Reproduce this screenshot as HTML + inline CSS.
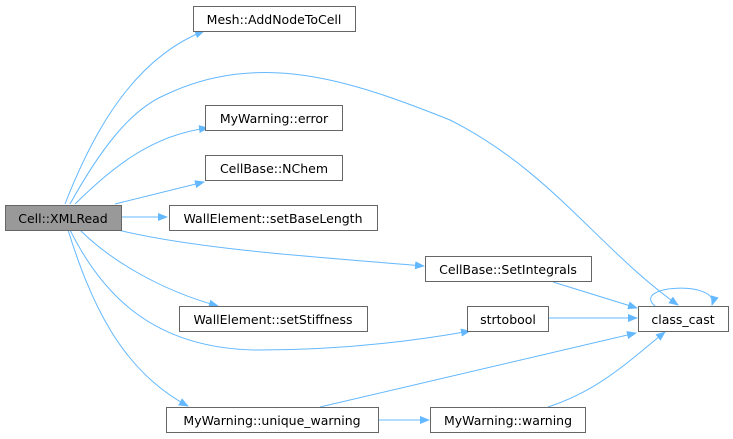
<!DOCTYPE html>
<html><head><style>
html,body{margin:0;padding:0;background:#fff;}
svg{display:block;}
text{font-family:"DejaVu Sans","Liberation Sans",sans-serif;font-size:12.5px;fill:#000;}
</style></head><body>
<svg width="733" height="439" viewBox="0 0 733 439">
<defs>
<marker id="a" markerWidth="10" markerHeight="8" refX="9" refY="4" orient="auto" markerUnits="userSpaceOnUse">
<path d="M0,0 L10,4 L0,8 z" fill="#63b8ff"/>
</marker>
</defs>
<g fill="none" stroke="#63b8ff" stroke-width="1" marker-end="url(#a)">
<path d="M65,204 C90,140 130,60 204,31"/>
<path d="M70,204 C100,150 130,110 165,95 C260,50 350,80 450,120 C550,170 600,250 678,305"/>
<path d="M75,204 C110,170 150,135 208,128"/>
<path d="M115,204 L204,182"/>
<path d="M121,217 L167,217"/>
<path d="M118,230 C200,250 330,258 424,266"/>
<path d="M80,230 C110,260 160,290 218,306"/>
<path d="M70,230 C100,290 150,350 260,350 C350,350 420,340 470,331"/>
<path d="M68,230 C90,300 120,370 188,406"/>
<path d="M320,407 L636,333"/>
<path d="M378,420 L429,420"/>
<path d="M548,407 C600,390 630,360 665,332"/>
<path d="M553,282 L637,308"/>
<path d="M548,318 L637,318"/>
<path d="M655,306 C630,285 720,280 712,305"/>
</g>
<g stroke="#666" stroke-width="1">
<rect x="5.5" y="205.5" width="116" height="25" fill="#999"/>
<rect x="193.5" y="6.5" width="162" height="25" fill="#fff"/>
<rect x="205.5" y="105.5" width="137" height="25" fill="#fff"/>
<rect x="205.5" y="155.5" width="137" height="25" fill="#fff"/>
<rect x="169.5" y="205.5" width="208" height="25" fill="#fff"/>
<rect x="425.5" y="256.5" width="166" height="25" fill="#fff"/>
<rect x="179.5" y="306.5" width="188" height="25" fill="#fff"/>
<rect x="467.5" y="306.5" width="81" height="25" fill="#fff"/>
<rect x="638.5" y="306.5" width="90" height="25" fill="#fff"/>
<rect x="166.5" y="407.5" width="212" height="25" fill="#fff"/>
<rect x="430.5" y="407.5" width="155" height="25" fill="#fff"/>
</g>
<g text-anchor="middle">
<text x="63" y="223">Cell::XMLRead</text>
<text x="274" y="24">Mesh::AddNodeToCell</text>
<text x="274" y="123">MyWarning::error</text>
<text x="274" y="173">CellBase::NChem</text>
<text x="273" y="223">WallElement::setBaseLength</text>
<text x="508" y="274">CellBase::SetIntegrals</text>
<text x="273" y="324">WallElement::setStiffness</text>
<text x="508" y="324">strtobool</text>
<text x="683" y="324">class_cast</text>
<text x="272" y="425">MyWarning::unique_warning</text>
<text x="508" y="425">MyWarning::warning</text>
</g>
</svg>
</body></html>
